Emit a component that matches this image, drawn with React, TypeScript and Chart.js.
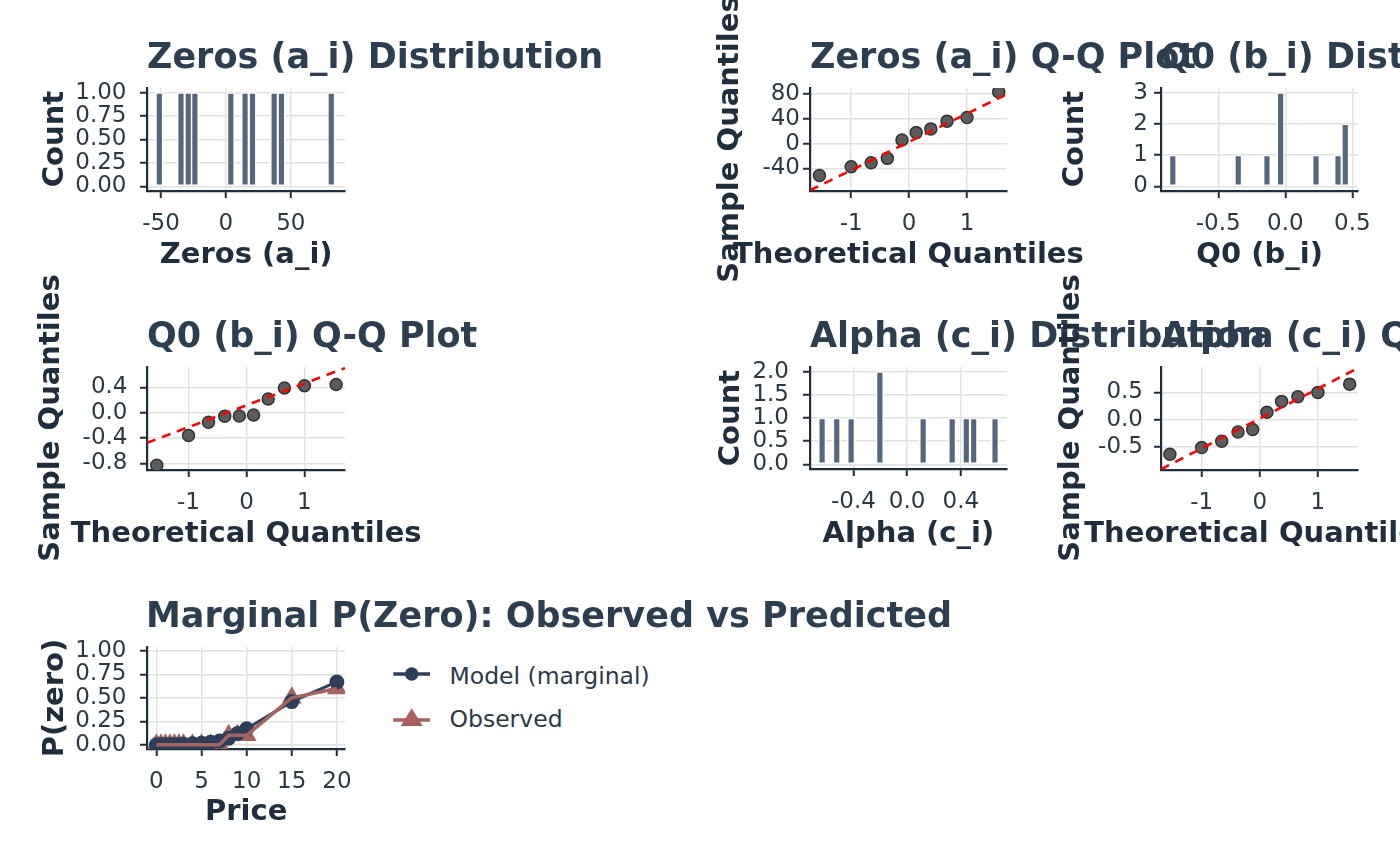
import { useEffect, useRef } from 'react';
import { Chart, registerables } from 'chart.js';

Chart.register(...registerables);

const FONT = "'DejaVu Sans', 'Noto Sans', sans-serif";
const TITLE_COLOR = '#2C3E50';
const AXIS_COLOR = '#1F2D3D';
const TICK_COLOR = '#2B3947';
const GRID_COLOR = '#E2E2E2';
const BAR_COLOR = '#56667D';
const POINT_FILL = '#5C5C5C';
const MODEL_COLOR = '#2C3E5A';
const OBS_COLOR = '#A5625F';

// histogram bins (centres) and counts
const zerosBins = [-51.3, -34.6, -29.0, -23.9, 3.8, 14.8, 20.5, 37.2, 42.8, 81.2];
const zerosCounts = [1, 1, 1, 1, 1, 1, 1, 1, 1, 1];
const q0Bins = [-0.839, -0.351, -0.137, -0.035, 0.229, 0.393, 0.447];
const q0Counts = [1, 1, 1, 3, 1, 1, 2];
const alphaBins = [-0.633, -0.524, -0.417, -0.203, 0.119, 0.335, 0.44, 0.495, 0.654];
const alphaCounts = [1, 1, 1, 2, 1, 1, 1, 1, 1];

// Q-Q plots
const theoQ = [-1.547, -1.0, -0.655, -0.375, -0.123, 0.123, 0.375, 0.655, 1.0, 1.547];
const zerosSample = [-51.2, -37.3, -30.8, -23.7, 6.0, 17.8, 23.8, 36.3, 42.2, 83.3];
const q0Sample = [-0.83, -0.362, -0.153, -0.058, -0.053, -0.037, 0.214, 0.388, 0.425, 0.445];
const alphaSample = [-0.638, -0.515, -0.399, -0.228, -0.184, 0.134, 0.336, 0.422, 0.502, 0.654];
const zerosLineX = [-1.71, 1.69];
const zerosLineY = [-75.2, 79.9];
const q0LineX = [-1.716, 1.7];
const q0LineY = [-0.476, 0.703];
const alphaLineX = [-1.7, 1.69];
const alphaLineY = [-0.916, 0.95];

// marginal P(zero)
const prices = [0, 0.5, 1, 1.5, 2, 2.5, 3, 4, 5, 6, 7, 8, 9, 10, 15, 20];
const modelP = [0, 0, 0, 0, 0, 0, 0.005, 0.01, 0.015, 0.025, 0.04, 0.07, 0.12, 0.17, 0.46, 0.67];
const observedP = [0, 0, 0, 0, 0, 0, 0, 0, 0, 0, 0, 0.1, 0.1, 0.1, 0.5, 0.6];

// ticks
const zerosXTicks = [-50, 0, 50];
const zerosXLabels = ['-50', '0', '50'];
const count1Ticks = [0, 0.25, 0.5, 0.75, 1];
const count1Labels = ['0.00', '0.25', '0.50', '0.75', '1.00'];
const qqXTicks = [-1, 0, 1];
const qqXLabels = ['-1', '0', '1'];
const zerosQTicks = [-40, 0, 40, 80];
const zerosQLabels = ['-40', '0', '40', '80'];
const q0XTicks = [-0.5, 0, 0.5];
const q0XLabels = ['-0.5', '0.0', '0.5'];
const count3Ticks = [0, 1, 2, 3];
const count3Labels = ['0', '1', '2', '3'];
const q0QTicks = [-0.8, -0.4, 0, 0.4];
const q0QLabels = ['-0.8', '-0.4', '0.0', '0.4'];
const alphaXTicks = [-0.4, 0, 0.4];
const alphaXLabels = ['-0.4', '0.0', '0.4'];
const count2Ticks = [0, 0.5, 1, 1.5, 2];
const count2Labels = ['0.0', '0.5', '1.0', '1.5', '2.0'];
const alphaQTicks = [-0.5, 0, 0.5];
const alphaQLabels = ['-0.5', '0.0', '0.5'];
const priceTicks = [0, 5, 10, 15, 20];
const priceLabels = ['0', '5', '10', '15', '20'];
const probTicks = [0, 0.25, 0.5, 0.75, 1];
const probLabels = ['0.00', '0.25', '0.50', '0.75', '1.00'];

const YW = 90;
const PT = 20;
const PR = 40;
const XH = 60;
const TICK_SIZE = 23;

function axis(min: number, max: number, ticks: number[], labels: string[], pad: number, isX: boolean) {
  return {
    type: 'linear',
    position: isX ? 'bottom' : 'left',
    min,
    max,
    offset: false,
    afterBuildTicks: (s: any) => {
      s.ticks = ticks.map((v) => ({ value: v }));
    },
    afterFit: (s: any) => {
      // keep the plot box exactly where the layout puts it
      s.paddingTop = 0;
      s.paddingBottom = 0;
      s.paddingLeft = 0;
      s.paddingRight = 0;
      if (isX) s.height = XH;
      else s.width = YW;
    },
    ticks: {
      autoSkip: false,
      maxRotation: 0,
      minRotation: 0,
      padding: pad,
      color: TICK_COLOR,
      font: { family: FONT, size: TICK_SIZE },
      callback: (v: any) => {
        const i = ticks.indexOf(v);
        return i >= 0 ? labels[i] : '';
      },
    },
    grid: {
      color: GRID_COLOR,
      lineWidth: 1.5,
      offset: false,
      drawTicks: true,
      tickLength: 7,
      tickColor: AXIS_COLOR,
      tickWidth: 2,
    },
    border: { display: true, color: AXIS_COLOR, width: 2.2 },
  };
}

type PanelProps = {
  box: number[];
  xRange: number[];
  yRange: number[];
  xTicks: number[];
  xLabels: string[];
  yTicks: number[];
  yLabels: string[];
  yPad: number;
  type: string;
  datasets: any[];
};

function Panel({ box, xRange, yRange, xTicks, xLabels, yTicks, yLabels, yPad, type, datasets }: PanelProps) {
  const ref = useRef<HTMLCanvasElement>(null);
  const [l, t, r, b] = box;
  const w = Math.round(YW + (r - l) + PR);
  const h = Math.round(PT + (b - t) + XH);

  useEffect(() => {
    if (!ref.current) return;
    const chart = new Chart(ref.current, {
      type: type as any,
      data: { datasets },
      options: {
        responsive: false,
        animation: false,
        layout: { padding: { top: PT, right: PR, left: 0, bottom: 0 } },
        plugins: { legend: { display: false }, tooltip: { enabled: false } },
        scales: {
          x: axis(xRange[0], xRange[1], xTicks, xLabels, 12, true) as any,
          y: axis(yRange[0], yRange[1], yTicks, yLabels, yPad, false) as any,
        },
      },
    });
    return () => chart.destroy();
  }, []);

  return (
    <canvas
      ref={ref}
      width={w}
      height={h}
      style={{ position: 'absolute', left: l - YW, top: t - PT, width: w, height: h }}
    />
  );
}

function Txt({ x, y, text, size, bold, color, rotate, left }: any) {
  const tr = left ? 'translate(0,-50%)' : 'translate(-50%,-50%)' + (rotate ? ' rotate(-90deg)' : '');
  return (
    <div
      style={{
        position: 'absolute',
        left: x,
        top: y,
        transform: tr,
        fontFamily: FONT,
        fontSize: size,
        fontWeight: bold ? 'bold' : 'normal',
        color,
        lineHeight: 1,
        whiteSpace: 'nowrap',
      }}
    >
      {text}
    </div>
  );
}

function hist(bins: number[], counts: number[]) {
  return [
    {
      data: bins.map((x, i) => ({ x, y: counts[i] })),
      backgroundColor: BAR_COLOR,
      borderColor: '#ffffff',
      borderWidth: 1.5,
      borderSkipped: false,
      barThickness: 7.5,
    },
  ];
}

function qq(sample: number[], lx: number[], ly: number[]) {
  return [
    {
      data: lx.map((x, i) => ({ x, y: ly[i] })),
      showLine: true,
      borderColor: '#FF0000',
      borderWidth: 2.6,
      borderDash: [9, 7],
      pointRadius: 0,
      order: 0,
    },
    {
      data: theoQ.map((x, i) => ({ x, y: sample[i] })),
      backgroundColor: POINT_FILL,
      borderColor: '#333333',
      borderWidth: 1.5,
      pointRadius: 6,
      order: 1,
    },
  ];
}

const marginalSets = [
  {
    data: prices.map((x, i) => ({ x, y: observedP[i] })),
    borderColor: OBS_COLOR,
    borderWidth: 3.5,
    pointRadius: 0,
    tension: 0,
    order: 0,
  },
  {
    data: prices.map((x, i) => ({ x, y: modelP[i] })),
    borderColor: MODEL_COLOR,
    backgroundColor: MODEL_COLOR,
    borderWidth: 3,
    pointRadius: 7.5,
    pointBorderWidth: 0,
    tension: 0,
    order: 1,
  },
  {
    data: prices.map((x, i) => ({ x, y: observedP[i] })),
    showLine: false,
    pointStyle: 'triangle',
    pointRadius: 11.5,
    pointBorderWidth: 0,
    backgroundColor: OBS_COLOR,
    borderColor: OBS_COLOR,
    order: 2,
  },
];

export default function App() {
  const T = { size: 35, bold: true, color: TITLE_COLOR, left: true };
  const A = { size: 29, bold: true, color: AXIS_COLOR };
  return (
    <div
      style={{
        position: 'fixed',
        left: 0,
        top: 0,
        width: 1400,
        height: 866,
        overflow: 'hidden',
        background: '#ffffff',
      }}
    >
      <Panel box={[147.3, 88, 345, 190.7]} xRange={[-60.8, 91.8]} yRange={[-0.05, 1.05]}
        xTicks={zerosXTicks} xLabels={zerosXLabels} yTicks={count1Ticks} yLabels={count1Labels}
        yPad={13.5} type="bar" datasets={hist(zerosBins, zerosCounts)} />
      <Panel box={[810, 88, 1006.7, 190.7]} xRange={[-1.71, 1.69]} yRange={[-76.3, 89.7]}
        xTicks={qqXTicks} xLabels={qqXLabels} yTicks={zerosQTicks} yLabels={zerosQLabels}
        yPad={3} type="scatter" datasets={qq(zerosSample, zerosLineX, zerosLineY)} />
      <Panel box={[1161, 88, 1358.3, 190.7]} xRange={[-0.927, 0.542]} yRange={[-0.15, 3.15]}
        xTicks={q0XTicks} xLabels={q0XLabels} yTicks={count3Ticks} yLabels={count3Labels}
        yPad={6} type="bar" datasets={hist(q0Bins, q0Counts)} />
      <Panel box={[147.3, 366.7, 345, 470]} xRange={[-1.716, 1.7]} yRange={[-0.905, 0.72]}
        xTicks={qqXTicks} xLabels={qqXLabels} yTicks={q0QTicks} yLabels={q0QLabels}
        yPad={12.5} type="scatter" datasets={qq(q0Sample, q0LineX, q0LineY)} />
      <Panel box={[810, 366.7, 1006.7, 469]} xRange={[-0.723, 0.743]} yRange={[-0.1, 2.1]}
        xTicks={alphaXTicks} xLabels={alphaXLabels} yTicks={count2Ticks} yLabels={count2Labels}
        yPad={14} type="bar" datasets={hist(alphaBins, alphaCounts)} />
      <Panel box={[1161, 366.7, 1358.3, 470]} xRange={[-1.7, 1.69]} yRange={[-0.929, 0.97]}
        xTicks={qqXTicks} xLabels={qqXLabels} yTicks={alphaQTicks} yLabels={alphaQLabels}
        yPad={11} type="scatter" datasets={qq(alphaSample, alphaLineX, alphaLineY)} />
      <Panel box={[147.3, 646.7, 345, 748.3]} xRange={[-1.04, 20.9]} yRange={[-0.046, 1.043]}
        xTicks={priceTicks} xLabels={priceLabels} yTicks={probTicks} yLabels={probLabels}
        yPad={13.5} type="line" datasets={marginalSets} />

      <Txt x={147} y={55.9} text="Zeros (a_i) Distribution" {...T} />
      <Txt x={810} y={55.9} text="Zeros (a_i) Q-Q Plot" {...T} />
      <Txt x={1161} y={55.9} text="Q0 (b_i) Distribution" {...T} />
      <Txt x={147} y={334.6} text="Q0 (b_i) Q-Q Plot" {...T} />
      <Txt x={810} y={334.6} text="Alpha (c_i) Distribution" {...T} />
      <Txt x={1161} y={334.6} text="Alpha (c_i) Q-Q Plot" {...T} />
      <Txt x={146} y={614.6} text="Marginal P(Zero): Observed vs Predicted" {...T} />

      <Txt x={52.8} y={139.3} text="Count" rotate {...A} />
      <Txt x={728.1} y={139.3} text="Sample Quantiles" rotate {...A} />
      <Txt x={1072.8} y={139.3} text="Count" rotate {...A} />
      <Txt x={49.4} y={418.3} text="Sample Quantiles" rotate {...A} />
      <Txt x={729.4} y={417.8} text="Count" rotate {...A} />
      <Txt x={1069.4} y={418.3} text="Sample Quantiles" rotate {...A} />
      <Txt x={53} y={697.5} text="P(zero)" rotate {...A} />

      <Txt x={246.2} y={252.8} text="Zeros (a_i)" {...A} />
      <Txt x={908.4} y={252.8} text="Theoretical Quantiles" {...A} />
      <Txt x={1259.7} y={252.8} text="Q0 (b_i)" {...A} />
      <Txt x={246.2} y={532.1} text="Theoretical Quantiles" {...A} />
      <Txt x={908.4} y={531.6} text="Alpha (c_i)" {...A} />
      <Txt x={1259.7} y={532.1} text="Theoretical Quantiles" {...A} />
      <Txt x={246.2} y={810.4} text="Price" {...A} />

      <svg style={{ position: 'absolute', left: 390, top: 660 }} width={45} height={75}>
        <line x1={3.3} y1={14} x2={40} y2={14} stroke={MODEL_COLOR} strokeWidth={3.5} />
        <circle cx={21.7} cy={14} r={6.7} fill={MODEL_COLOR} />
        <line x1={3.3} y1={60} x2={40} y2={60} stroke={OBS_COLOR} strokeWidth={3.5} />
        <polygon points="21.7,48.3 10.7,66 32.7,66" fill={OBS_COLOR} />
      </svg>
      <Txt x={449.5} y={676.7} text="Model (marginal)" size={23.5} color={TICK_COLOR} left />
      <Txt x={449.5} y={720.1} text="Observed" size={23.5} color={TICK_COLOR} left />
    </div>
  );
}
